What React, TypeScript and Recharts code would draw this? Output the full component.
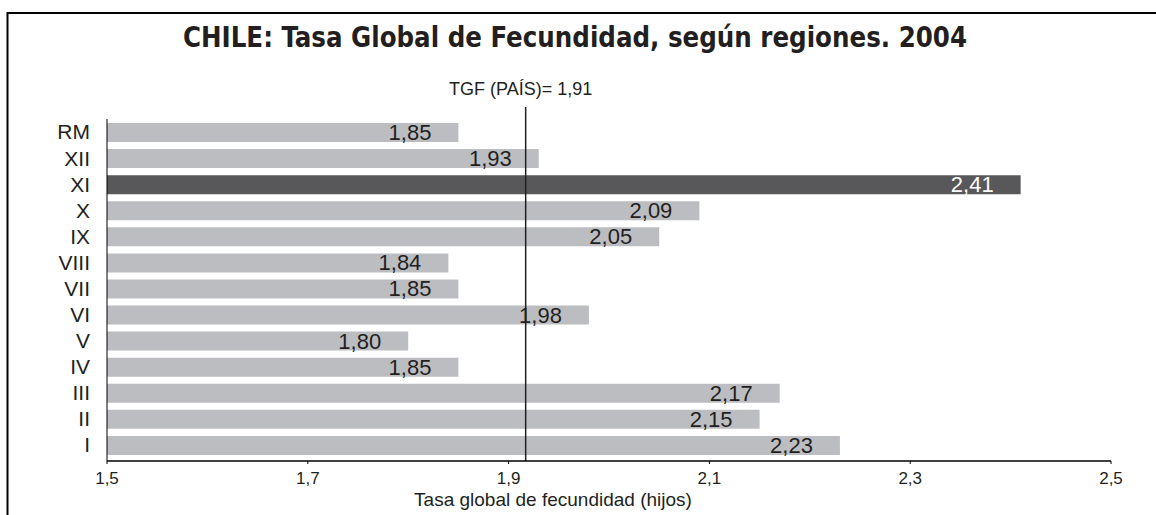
import React from 'react';
import { BarChart, Bar, XAxis, YAxis, Cell, LabelList, ReferenceLine } from 'recharts';

const regions = ['RM', 'XII', 'XI', 'X', 'IX', 'VIII', 'VII', 'VI', 'V', 'IV', 'III', 'II', 'I'];
const tgfValues = [1.85, 1.93, 2.41, 2.09, 2.05, 1.84, 1.85, 1.98, 1.8, 1.85, 2.17, 2.15, 2.23];
const xTicks = [1.5, 1.7, 1.9, 2.1, 2.3, 2.5];
const highlightRegion = 'XI';
const countryLineValue = 1.917;
const countryLabel = 'TGF (PAÍS)= 1,91';
const titleText = 'CHILE: Tasa Global de Fecundidad, según regiones. 2004';
const axisTitle = 'Tasa global de fecundidad (hijos)';

const data = regions.map((r, i) => ({ region: r, value: tgfValues[i] }));

const SANS = '"Liberation Sans", Arial, Helvetica, sans-serif';
const NARROW = '"Liberation Sans Narrow", "DejaVu Sans Condensed", "Liberation Sans", Arial, sans-serif';
const TEXT = '#231F20';
const BAR_LIGHT = '#BCBDC1';
const BAR_DARK = '#58585A';

const fmt = (v: number) => v.toFixed(2).replace('.', ',');

const BarValueLabel = (props: any) => {
  const vb = props.viewBox || {};
  const x = props.x ?? vb.x;
  const y = props.y ?? vb.y;
  const width = props.width ?? vb.width;
  const height = props.height ?? vb.height;
  const idx = props.index;
  const isHi = regions[idx] === highlightRegion;
  return (
    <text
      x={x + width - 27}
      y={y + height - 2}
      textAnchor="end"
      fontFamily={SANS}
      fontSize={22}
      fill={isHi ? '#FFFFFF' : TEXT}
    >
      {fmt(Number(props.value))}
    </text>
  );
};

const CountryLine = (p: any) => {
  const top = Math.min(p.y1, p.y2);
  const bottom = Math.max(p.y1, p.y2);
  const x = p.x1;
  return (
    <g>
      <line x1={x} y1={top - 12} x2={x} y2={bottom} stroke={TEXT} strokeWidth={1.5} />
      <text x={x - 5} y={top - 24} textAnchor="middle" fontFamily={SANS} fontSize={18} fill={TEXT}>
        {countryLabel}
      </text>
    </g>
  );
};

export default function App() {
  return (
    <div
      style={{
        position: 'fixed',
        left: 0,
        top: 0,
        width: 1156,
        height: 515,
        overflow: 'hidden',
        background: '#fff',
      }}
    >
      <div style={{ position: 'absolute', left: 0, top: 0 }}>
        <BarChart
          layout="vertical"
          width={1156}
          height={515}
          data={data}
          margin={{ top: 119, right: 45, bottom: 9, left: 0 }}
          barSize={19}
        >
          <XAxis
            type="number"
            dataKey="value"
            domain={[1.5, 2.5]}
            ticks={xTicks}
            allowDataOverflow
            tickFormatter={(v: number) => v.toFixed(1).replace('.', ',')}
            axisLine={{ stroke: '#000', strokeWidth: 1.5 }}
            tickLine={{ stroke: '#000' }}
            tickSize={3}
            tickMargin={8}
            tick={{ fill: TEXT, fontSize: 17, fontFamily: SANS }}
            height={45}
            label={{
              value: axisTitle,
              position: 'insideBottom',
              offset: 0,
              dx: -56,
              fill: TEXT,
              fontSize: 19,
              fontFamily: SANS,
            }}
          />
          <YAxis
            type="category"
            dataKey="region"
            width={107}
            interval={0}
            axisLine={{ stroke: '#000' }}
            tickLine={false}
            tickSize={15}
            tickMargin={2}
            padding={{ top: 0, bottom: 3 }}
            tick={{ fill: TEXT, fontSize: 21, fontFamily: SANS }}
          />
          <Bar dataKey="value" isAnimationActive={false}>
            {data.map((d) => (
              <Cell key={d.region} fill={d.region === highlightRegion ? BAR_DARK : BAR_LIGHT} />
            ))}
            <LabelList dataKey="value" content={BarValueLabel} />
          </Bar>
          <ReferenceLine x={countryLineValue} stroke={TEXT} shape={CountryLine} ifOverflow="visible" />
        </BarChart>
      </div>
      <svg
        width={1156}
        height={515}
        style={{ position: 'absolute', left: 0, top: 0, pointerEvents: 'none' }}
      >
        <path d="M 7.5 515 V 13 H 1156" fill="none" stroke="#000" strokeWidth={2} />
        <text
          x={183}
          y={47}
          textLength={784}
          lengthAdjust="spacingAndGlyphs"
          fontFamily={NARROW}
          fontWeight="bold"
          fontSize={29}
          fill={TEXT}
        >
          {titleText}
        </text>
      </svg>
    </div>
  );
}
